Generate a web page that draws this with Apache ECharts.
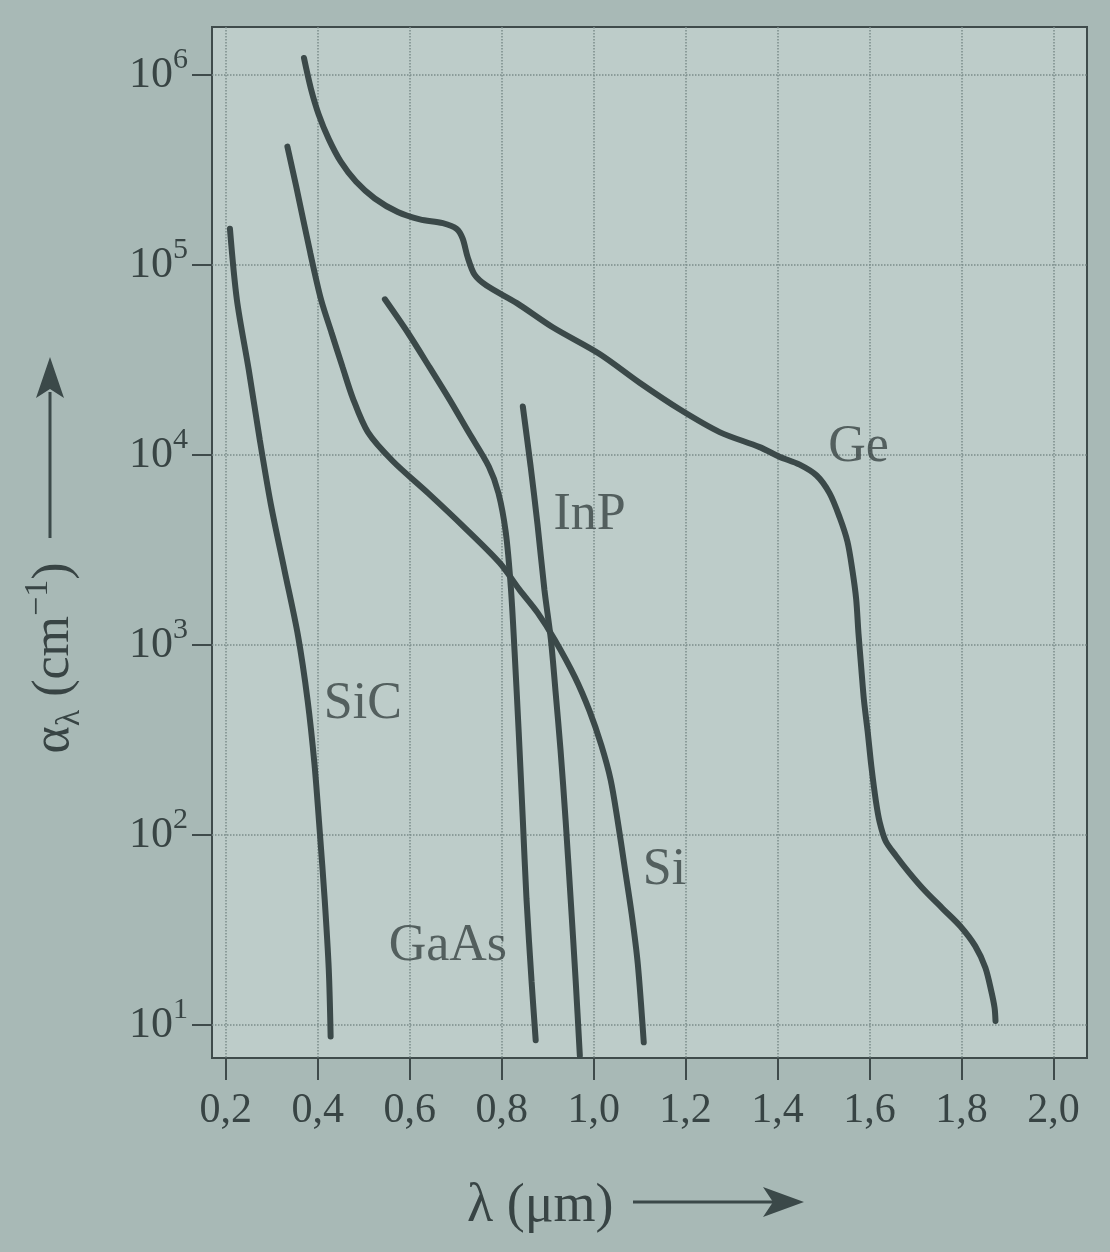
<!DOCTYPE html>
<html>
<head>
<meta charset="utf-8">
<title>Absorptionskoeffizient</title>
<script src="https://cdn.jsdelivr.net/npm/echarts@6/dist/echarts.min.js"></script>
<style>
  html, body { margin: 0; padding: 0; background: #a8b9b6; }
  #chart { width: 1110px; height: 1252px; }
</style>
</head>
<body>
<div id="chart"></div>
<script>
// wavelength in µm, absorption coefficient in cm^-1
const geLambda = [0.370, 0.385, 0.402, 0.424, 0.450, 0.483, 0.524, 0.574, 0.622, 0.672, 0.702, 0.715, 0.726, 0.741, 0.767, 0.833, 0.911, 1.013, 1.100, 1.187, 1.274, 1.361, 1.404, 1.448, 1.485, 1.513, 1.535, 1.552, 1.563, 1.571, 1.576, 1.582, 1.588, 1.596, 1.604, 1.614, 1.622, 1.635, 1.657, 1.687, 1.720, 1.759, 1.798, 1.830, 1.852, 1.865, 1.872, 1.874];
const geAlpha = [1.23e6, 8.5e5, 6.2e5, 4.6e5, 3.5e5, 2.75e5, 2.24e5, 1.9e5, 1.74e5, 1.66e5, 1.55e5, 1.38e5, 1.1e5, 8.9e4, 7.8e4, 6.3e4, 4.7e4, 3.4e4, 2.4e4, 1.74e4, 1.32e4, 1.1e4, 9.8e3, 8.9e3, 7.8e3, 6.3e3, 4.7e3, 3.5e3, 2.45e3, 1.74e3, 1.15e3, 760, 510, 350, 230, 150, 117, 93, 78, 63, 51, 41, 33, 26, 20, 15, 12.3, 10.5];

const siLambda = [0.334, 0.353, 0.384, 0.407, 0.430, 0.454, 0.476, 0.509, 0.563, 0.640, 0.717, 0.796, 0.839, 0.878, 0.915, 0.959, 0.991, 1.017, 1.037, 1.052, 1.067, 1.083, 1.096, 1.109];
const siAlpha = [4.2e5, 2.6e5, 1.15e5, 6.6e4, 4.4e4, 2.9e4, 2.0e4, 1.32e4, 9.3e3, 6.3e3, 4.2e3, 2.7e3, 1.95e3, 1.48e3, 1.07e3, 680, 450, 295, 195, 120, 69, 38, 21, 8.1];

const sicLambda = [0.209, 0.224, 0.250, 0.274, 0.298, 0.328, 0.357, 0.378, 0.393, 0.404, 0.415, 0.424, 0.428];
const sicAlpha = [1.55e5, 6.6e4, 2.8e4, 1.2e4, 5.5e3, 2.45e3, 1.12e3, 510, 234, 107, 46, 19.5, 8.7];

const gaasLambda = [0.546, 0.596, 0.643, 0.687, 0.728, 0.772, 0.793, 0.809, 0.820, 0.828, 0.837, 0.846, 0.854, 0.865, 0.874];
const gaasAlpha = [6.6e4, 4.4e4, 2.9e4, 1.95e4, 1.32e4, 8.7e3, 6.3e3, 3.9e3, 2.0e3, 930, 350, 120, 46, 17, 8.3];

const inpLambda = [0.846, 0.863, 0.878, 0.893, 0.907, 0.917, 0.928, 0.939, 0.950, 0.961, 0.970];
const inpAlpha = [1.8e4, 8.7e3, 4.3e3, 1.95e3, 1.07e3, 575, 280, 120, 46, 17, 6.9];

// curve names and where they sit in the plot
const labelNames = ['Ge', 'InP', 'SiC', 'Si', 'GaAs'];
const labelLambda = [1.576, 0.991, 0.498, 1.154, 0.683];
const labelAlpha = [1.1e4, 4.8e3, 490, 65, 26];

const xTicks = [0.2, 0.4, 0.6, 0.8, 1.0, 1.2, 1.4, 1.6, 1.8, 2.0];
const yTicks = [10, 100, 1000, 1e4, 1e5, 1e6];

const ink = '#3b4949';
const textInk = '#384444';
const serif = 'Liberation Serif';

const pairs = (xs, ys) => xs.map((x, i) => [x, ys[i]]);

function curve(name, xs, ys) {
  return {
    name: name,
    type: 'line',
    data: pairs(xs, ys),
    smooth: 0.3,
    symbol: 'none',
    lineStyle: { width: 6, color: ink, cap: 'round' },
    z: 3
  };
}

const chart = echarts.init(document.getElementById('chart'));
const option = {
  animation: false,
  backgroundColor: '#a8b9b6',
  grid: {
    left: 212, right: 23, top: 27, bottom: 194,
    show: true,
    backgroundColor: '#bdccc9',
    borderColor: '#3f4b4b',
    borderWidth: 2,
    containLabel: false,
    outerBoundsMode: 'none'
  },
  xAxis: {
    type: 'value',
    min: 0.17,
    max: 2.073,
    axisLine: { show: false },
    axisTick: {
      show: true, inside: false, length: 22,
      customValues: xTicks,
      lineStyle: { color: '#3f4b4b', width: 2 }
    },
    axisLabel: {
      customValues: xTicks,
      margin: 32,
      fontFamily: serif, fontSize: 42, color: textInk,
      formatter: v => v.toFixed(1).replace('.', ',')
    },
    splitLine: {
      show: true,
      lineStyle: { type: 'dotted', color: '#7b8c8a', width: 1.5 }
    }
  },
  yAxis: {
    type: 'log',
    logBase: 10,
    min: 6.7,
    max: 1.79e6,
    axisLine: { show: false },
    axisTick: {
      show: true, inside: false, length: 20,
      customValues: yTicks,
      lineStyle: { color: '#3f4b4b', width: 2 }
    },
    axisLabel: {
      customValues: yTicks,
      margin: 24,
      color: textInk,
      formatter: v => '{b|10}{s|' + Math.round(Math.log10(v)) + '}',
      rich: {
        b: { fontFamily: serif, fontSize: 44, lineHeight: 60, color: textInk },
        s: { fontFamily: serif, fontSize: 30, lineHeight: 30, verticalAlign: 'top', color: textInk }
      }
    },
    splitLine: {
      show: true,
      lineStyle: { type: 'dotted', color: '#7b8c8a', width: 1.5 }
    }
  },
  series: [
    curve('Ge', geLambda, geAlpha),
    curve('Si', siLambda, siAlpha),
    curve('SiC', sicLambda, sicAlpha),
    curve('GaAs', gaasLambda, gaasAlpha),
    curve('InP', inpLambda, inpAlpha),
    {
      name: 'labels',
      type: 'scatter',
      symbolSize: 1,
      itemStyle: { color: 'rgba(0,0,0,0)' },
      data: labelNames.map((n, i) => ({ name: n, value: [labelLambda[i], labelAlpha[i]] })),
      label: {
        show: true,
        position: 'inside',
        formatter: p => p.name,
        fontFamily: serif, fontSize: 52, color: textInk
      },
      z: 4
    }
  ],
  graphic: [
    // y axis title with arrow
    {
      type: 'text',
      x: 54, y: 658,
      rotation: Math.PI / 2,
      style: {
        text: '{a|α}{d|λ}{a| (cm}{u|−1}{a|)}',
        align: 'center',
        verticalAlign: 'middle',
        rich: {
          a: { fontFamily: serif, fontSize: 52, lineHeight: 66, fill: textInk },
          d: { fontFamily: serif, fontSize: 34, lineHeight: 34, verticalAlign: 'bottom', fill: textInk },
          u: { fontFamily: serif, fontSize: 34, lineHeight: 34, verticalAlign: 'top', fill: textInk }
        }
      }
    },
    {
      type: 'line',
      shape: { x1: 50, y1: 538, x2: 50, y2: 392 },
      style: { stroke: ink, lineWidth: 3 }
    },
    {
      type: 'polygon',
      shape: { points: [[50, 357], [36, 398], [50, 389], [64, 398]] },
      style: { fill: ink }
    },
    // x axis title with arrow
    {
      type: 'text',
      x: 467, y: 1207,
      style: {
        text: 'λ (μm)',
        font: '54px "Liberation Serif"',
        fill: textInk,
        align: 'left',
        verticalAlign: 'middle'
      }
    },
    {
      type: 'line',
      shape: { x1: 633, y1: 1202, x2: 775, y2: 1202 },
      style: { stroke: ink, lineWidth: 3 }
    },
    {
      type: 'polygon',
      shape: { points: [[804, 1202], [763, 1187], [773, 1202], [763, 1217]] },
      style: { fill: ink }
    }
  ]
};
chart.setOption(option);
</script>
</body>
</html>
